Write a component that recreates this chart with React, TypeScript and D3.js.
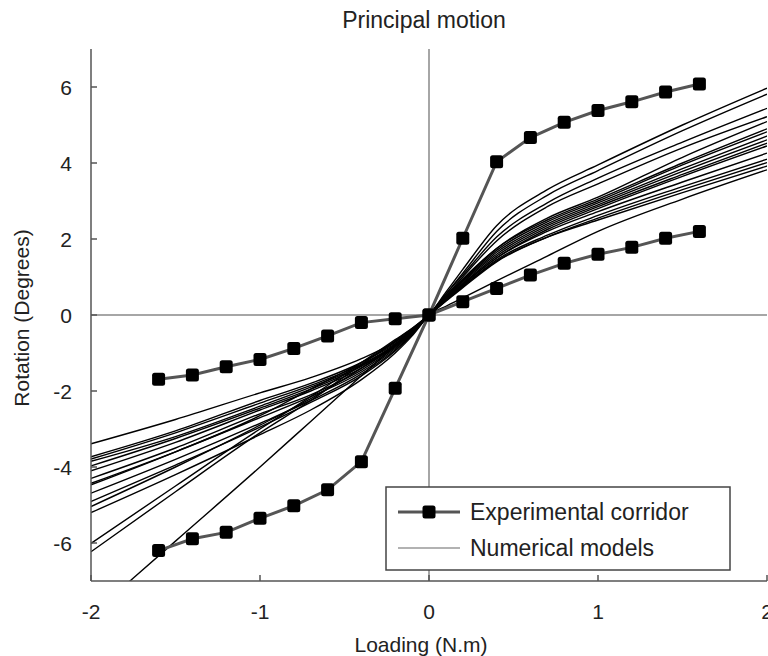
import React from "react";
import * as d3 from "d3";

const W = 768;
const H = 656;

const title = "Principal motion";
const xLabel = "Loading (N.m)";
const yLabel = "Rotation (Degrees)";
const xTicks = [-2, -1, 0, 1, 2];
const yTicks = [-6, -4, -2, 0, 2, 4, 6];

const corridorX = [-1.6, -1.4, -1.2, -1.0, -0.8, -0.6, -0.4, -0.2, 0, 0.2, 0.4, 0.6, 0.8, 1.0, 1.2, 1.4, 1.6];
const corridorSoft = [-1.69, -1.58, -1.36, -1.17, -0.88, -0.55, -0.2, -0.1, 0, 0.35, 0.7, 1.05, 1.36, 1.6, 1.78, 2.02, 2.2];
const corridorStiff = [-6.2, -5.89, -5.72, -5.35, -5.02, -4.6, -3.86, -1.93, 0, 2.02, 4.03, 4.67, 5.07, 5.38, 5.61, 5.87, 6.08];

const modelX = [-2, -1.5, -1, -0.7, -0.4, -0.2, -0.1, 0, 0.1, 0.2, 0.4, 0.7, 1.0, 1.5, 2];
const models = [
  [-3.39, -2.75, -2.05, -1.65, -1.15, -0.7, -0.38, 0, 0.6, 1.2, 2.35, 3.3, 3.95, 5.0, 5.97],
  [-3.73, -3.05, -2.25, -1.8, -1.25, -0.75, -0.4, 0, 0.55, 1.1, 2.2, 3.15, 3.8, 4.85, 5.81],
  [-3.79, -3.1, -2.32, -1.85, -1.3, -0.78, -0.42, 0, 0.55, 1.05, 2.05, 2.95, 3.6, 4.55, 5.44],
  [-3.97, -3.25, -2.45, -1.95, -1.35, -0.8, -0.43, 0, 0.5, 1.0, 1.95, 2.85, 3.45, 4.4, 5.22],
  [-4.1, -3.35, -2.5, -2.0, -1.4, -0.82, -0.45, 0, 0.48, 0.92, 1.75, 2.55, 3.1, 4.15, 5.09],
  [-4.3, -3.5, -2.6, -2.1, -1.45, -0.85, -0.46, 0, 0.5, 0.95, 1.75, 2.5, 3.05, 4.0, 4.9],
  [-4.43, -3.6, -2.7, -2.15, -1.5, -0.88, -0.48, 0, 0.45, 0.9, 1.7, 2.45, 3.0, 3.95, 4.82],
  [-4.47, -3.6, -2.65, -1.95, -1.25, -0.72, -0.4, 0, 0.45, 0.88, 1.65, 2.4, 2.95, 3.85, 4.71],
  [-4.69, -3.8, -2.85, -2.25, -1.55, -0.92, -0.5, 0, 0.42, 0.85, 1.6, 2.35, 2.9, 3.78, 4.61],
  [-4.91, -3.95, -2.95, -2.3, -1.6, -0.95, -0.52, 0, 0.42, 0.82, 1.55, 2.3, 2.85, 3.7, 4.52],
  [-5.04, -4.0, -2.9, -2.2, -1.4, -0.78, -0.42, 0, 0.4, 0.8, 1.5, 2.25, 2.8, 3.65, 4.45],
  [-5.2, -4.2, -3.15, -2.5, -1.7, -1.0, -0.55, 0, 0.4, 0.78, 1.5, 2.2, 2.72, 3.5, 4.26],
  [-6.01, -4.5, -3.0, -2.15, -1.25, -0.65, -0.35, 0, 0.38, 0.75, 1.45, 2.1, 2.62, 3.38, 4.1],
  [-6.23, -4.65, -3.1, -2.25, -1.3, -0.68, -0.36, 0, 0.36, 0.72, 1.4, 2.05, 2.55, 3.3, 4.01],
  [-7.9, -5.95, -4.0, -2.8, -1.6, -0.8, -0.4, 0, 0.38, 0.75, 1.42, 2.05, 2.5, 3.22, 3.92],
  [-3.85, -3.2, -2.4, -1.9, -1.33, -0.8, -0.44, 0, 0.23, 0.45, 0.9, 1.55, 2.2, 3.05, 3.82],
];

const legendItems = ["Experimental corridor", "Numerical models"];

const FONT = "'Liberation Sans', Arial, Helvetica, sans-serif";
const TEXT = "#222";
const AXIS = "#555";

export default function App() {
  const x = d3.scaleLinear().domain([-2, 2]).range([91, 767]);
  const y = d3.scaleLinear().domain([-7, 7]).range([581, 49]);

  const line = d3
    .line<[number, number]>()
    .x((d) => x(d[0]))
    .y((d) => y(d[1]))
    .curve(d3.curveMonotoneX);

  const straight = d3
    .line<[number, number]>()
    .x((d) => x(d[0]))
    .y((d) => y(d[1]));

  const corridors = [corridorSoft, corridorStiff];

  const legX = 386;
  const legY = 487;
  const legW = 344;
  const legH = 83;

  return (
    <svg
      width={W}
      height={H}
      style={{ position: "absolute", left: 0, top: 0, background: "#fff" }}
      fontFamily={FONT}
    >
      <defs>
        <clipPath id="plot">
          <rect x={x(-2)} y={y(7)} width={x(2) - x(-2)} height={y(-7) - y(7)} />
        </clipPath>
      </defs>
      <rect x={0} y={0} width={W} height={H} fill="#fff" />

      {/* title */}
      <text x={424} y={28} textAnchor="middle" fontSize={23} fill={TEXT}>
        {title}
      </text>

      {/* zero reference lines */}
      <line x1={x(0)} x2={x(0)} y1={y(7)} y2={y(-7)} stroke="#888" strokeWidth={1.5} />
      <line x1={x(-2)} x2={x(2)} y1={y(0)} y2={y(0)} stroke="#888" strokeWidth={1.5} />

      {/* numerical models */}
      <g clipPath="url(#plot)">
        {models.map((m, i) => (
          <path
            key={i}
            d={line(modelX.map((v, j) => [v, m[j]] as [number, number])) || ""}
            fill="none"
            stroke="#000"
            strokeWidth={1.4}
          />
        ))}
      </g>

      {/* corridors */}
      {corridors.map((c, i) => (
        <g key={i}>
          <path
            d={straight(corridorX.map((v, j) => [v, c[j]] as [number, number])) || ""}
            fill="none"
            stroke="#555"
            strokeWidth={3}
          />
          {corridorX.map((v, j) => (
            <rect
              key={j}
              x={x(v) - 6.5}
              y={y(c[j]) - 6.5}
              width={13}
              height={13}
              rx={2.5}
              fill="#000"
            />
          ))}
        </g>
      ))}

      {/* axes */}
      <line x1={x(-2)} x2={x(-2)} y1={y(7)} y2={y(-7)} stroke={AXIS} strokeWidth={1.5} />
      <line x1={x(-2)} x2={x(2)} y1={y(-7)} y2={y(-7)} stroke={AXIS} strokeWidth={1.5} />
      {yTicks.map((t) => (
        <g key={t}>
          <line x1={x(-2)} x2={x(-2) + 6} y1={y(t)} y2={y(t)} stroke={AXIS} strokeWidth={1.5} />
          <text x={72} y={y(t)} dy="0.36em" textAnchor="end" fontSize={21} fill={TEXT}>
            {t}
          </text>
        </g>
      ))}
      {xTicks.map((t) => (
        <g key={t}>
          <line x1={x(t)} x2={x(t)} y1={y(-7)} y2={y(-7) - 6} stroke={AXIS} strokeWidth={1.5} />
          <text x={x(t)} y={619} textAnchor="middle" fontSize={21} fill={TEXT}>
            {t}
          </text>
        </g>
      ))}

      <text x={421} y={652} textAnchor="middle" fontSize={21} fill={TEXT}>
        {xLabel}
      </text>
      <text
        transform={`translate(29, 318) rotate(-90)`}
        textAnchor="middle"
        fontSize={21}
        fill={TEXT}
      >
        {yLabel}
      </text>

      {/* legend */}
      <rect x={legX} y={legY} width={legW} height={legH} fill="#fff" stroke="#444" strokeWidth={1.5} />
      <line x1={398} x2={460} y1={512} y2={512} stroke="#555" strokeWidth={3} />
      <rect x={429 - 6.5} y={512 - 6.5} width={13} height={13} rx={2.5} fill="#000" />
      <text x={470} y={512} dy="0.36em" fontSize={23} fill={TEXT}>
        {legendItems[0]}
      </text>
      <line x1={398} x2={460} y1={548} y2={548} stroke="#666" strokeWidth={1.2} />
      <text x={470} y={548} dy="0.36em" fontSize={23} fill={TEXT}>
        {legendItems[1]}
      </text>
    </svg>
  );
}
